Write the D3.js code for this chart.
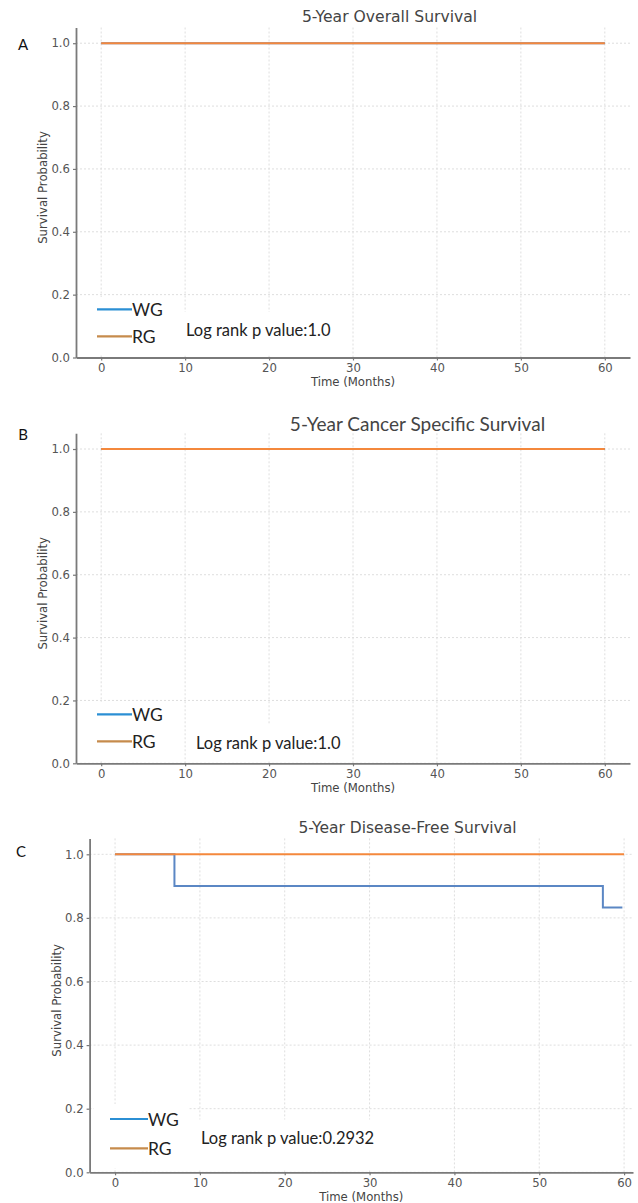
<!DOCTYPE html>
<html>
<head>
<meta charset="utf-8">
<script src="https://cdn.jsdelivr.net/npm/d3@7"></script>
<style>
    body { margin: 0; background: #fff; }
    svg { display: block; }
    .tick text { font-family: 'DejaVu Sans', sans-serif; font-size: 11.7px; fill: #555; }
    .tick line { stroke: #777; stroke-width: 1.2; }
    .domain { stroke: #7a7a7a; stroke-width: 1.8; }
</style>
</head>
<body>
<div id="chart"></div>
<script>
// data
const timeTicks = [0, 10, 20, 30, 40, 50, 60];
const probTicks = [0, 0.2, 0.4, 0.6, 0.8, 1.0];
const groups = ['WG', 'RG'];

const osWGTime = [0, 60];
const osWGSurv = [1.0, 1.0];
const osRGTime = [0, 60];
const osRGSurv = [1.0, 1.0];

const cssWGTime = [0, 60];
const cssWGSurv = [1.0, 1.0];
const cssRGTime = [0, 60];
const cssRGSurv = [1.0, 1.0];

const dfsWGTime = [0, 7, 57.5, 59.8];
const dfsWGSurv = [1.0, 0.9, 0.833, 0.833];
const dfsRGTime = [0, 60];
const dfsRGSurv = [1.0, 1.0];

const pValues = ['1.0', '1.0', '0.2932'];

const lineColors = {WG: '#5b87c4', RG: '#f4883c'};
const legendColors = {WG: '#2b8fd4', RG: '#c68b4c'};

const W = 638, H = 1203;

const svg = d3.select('#chart').append('svg')
    .attr('width', W)
    .attr('height', H);

class SurvivalPanel {
    constructor(_config, _series) {
        this.config = _config;
        this.series = _series;
        this.initVis();
    }

    initVis() {
        let vis = this;
        const c = vis.config;

        vis.g = svg.append('g');

        vis.xScale = d3.scaleLinear().domain(c.xDomain).range([c.left, c.right]);
        vis.yScale = d3.scaleLinear().domain([0, 1.05]).range([c.bottom, c.top]);

        // dotted grid
        vis.g.append('g').selectAll('line')
            .data(timeTicks)
            .join('line')
            .attr('x1', d => vis.xScale(d)).attr('x2', d => vis.xScale(d))
            .attr('y1', c.top).attr('y2', c.bottom)
            .attr('stroke', '#dedede')
            .attr('stroke-dasharray', '2,2');

        vis.g.append('g').selectAll('line')
            .data(probTicks)
            .join('line')
            .attr('x1', c.left).attr('x2', c.right)
            .attr('y1', d => vis.yScale(d)).attr('y2', d => vis.yScale(d))
            .attr('stroke', '#dedede')
            .attr('stroke-dasharray', '2,2');

        // KM step curves
        const line = d3.line()
            .x(d => vis.xScale(d[0]))
            .y(d => vis.yScale(d[1]))
            .curve(d3.curveStepAfter);

        groups.forEach(grp => {
            const s = vis.series[grp];
            const pts = s.time.map((t, i) => [t, s.surv[i]]);
            vis.g.append('path')
                .datum(pts)
                .attr('fill', 'none')
                .attr('stroke', lineColors[grp])
                .attr('stroke-width', 2)
                .attr('d', line);
        });

        // white boxes pasted over the grid (legend + p value)
        const lg = c.legend;
        vis.g.append('rect')
            .attr('x', lg.boxX).attr('y', lg.boxY)
            .attr('width', lg.boxW).attr('height', lg.boxH)
            .attr('fill', '#fff');

        groups.forEach((grp, i) => {
            const yy = lg.y + i * lg.gap;
            vis.g.append('line')
                .attr('x1', lg.x).attr('x2', lg.x + lg.len)
                .attr('y1', yy).attr('y2', yy)
                .attr('stroke', legendColors[grp])
                .attr('stroke-width', 2.2);
            vis.g.append('text')
                .attr('x', lg.x + lg.len)
                .attr('y', yy + 6.5)
                .style('font-family', 'Lato, sans-serif')
                .style('font-size', '17.5px')
                .attr('fill', '#222')
                .text(grp);
        });

        const pText = vis.g.append('text')
            .attr('x', c.pX)
            .attr('y', c.pY)
            .style('font-family', 'Lato, sans-serif')
            .style('font-size', '16.5px')
            .attr('fill', '#222')
            .text('Log rank p value:' + c.pValue);
        const bb = pText.node().getBBox();
        vis.g.insert('rect', () => pText.node())
            .attr('x', bb.x - 6).attr('y', bb.y - 8)
            .attr('width', bb.width + 10).attr('height', c.bottom - bb.y + 6)
            .attr('fill', '#fff');

        // axes
        vis.g.append('g')
            .attr('transform', `translate(0,${c.bottom})`)
            .call(d3.axisBottom(vis.xScale).tickValues(timeTicks).tickSize(3).tickSizeOuter(0).tickPadding(3));

        vis.g.append('g')
            .attr('transform', `translate(${c.left},0)`)
            .call(d3.axisLeft(vis.yScale).tickValues(probTicks).tickFormat(d3.format('.1f')).tickSize(3).tickSizeOuter(0).tickPadding(3));

        vis.g.append('text')
            .attr('x', (c.left + c.right) / 2)
            .attr('y', c.bottom + 28.5)
            .attr('text-anchor', 'middle')
            .style('font-family', 'DejaVu Sans, sans-serif')
            .style('font-size', '11.7px')
            .attr('fill', '#444')
            .text('Time (Months)');

        vis.g.append('text')
            .attr('transform', `translate(${c.left - 33},${(c.top + c.bottom) / 2 - 5}) rotate(-90)`)
            .attr('text-anchor', 'middle')
            .attr('dy', '0.35em')
            .style('font-family', 'DejaVu Sans, sans-serif')
            .style('font-size', '11.7px')
            .attr('fill', '#444')
            .text('Survival Probability');

        // title
        vis.g.append('text')
            .attr('x', c.titleX)
            .attr('y', c.titleY)
            .attr('text-anchor', 'middle')
            .style('font-family', c.titleFont)
            .style('font-size', c.titleSize)
            .attr('fill', '#444')
            .text(c.title);

        // panel letter
        vis.g.append('text')
            .attr('x', c.letterX)
            .attr('y', c.letterY)
            .attr('text-anchor', 'middle')
            .style('font-family', 'Lato, sans-serif')
            .style('font-size', '15px')
            .attr('fill', '#111')
            .text(c.letter);
    }
}

new SurvivalPanel({
    letter: 'A', letterX: 23, letterY: 50,
    title: '5-Year Overall Survival', titleX: 389.5, titleY: 21.5,
    titleFont: 'DejaVu Sans, sans-serif', titleSize: '15.6px',
    left: 76, right: 630, top: 27.5, bottom: 357.5, xDomain: [-3, 63],
    legend: {x: 97, len: 35, y: 309.3, gap: 27, boxX: 80, boxY: 297, boxW: 88, boxH: 58},
    pX: 186, pY: 336, pValue: pValues[0]
}, {WG: {time: osWGTime, surv: osWGSurv}, RG: {time: osRGTime, surv: osRGSurv}});

new SurvivalPanel({
    letter: 'B', letterX: 23, letterY: 440,
    title: '5-Year Cancer Specific Survival', titleX: 417.5, titleY: 431,
    titleFont: 'Lato, sans-serif', titleSize: '19px',
    left: 76, right: 630, top: 433.3, bottom: 763.3, xDomain: [-3, 63],
    legend: {x: 97, len: 35, y: 714.3, gap: 27, boxX: 80, boxY: 702, boxW: 88, boxH: 58},
    pX: 196, pY: 749, pValue: pValues[1]
}, {WG: {time: cssWGTime, surv: cssWGSurv}, RG: {time: cssRGTime, surv: cssRGSurv}});

new SurvivalPanel({
    letter: 'C', letterX: 21, letterY: 857,
    title: '5-Year Disease-Free Survival', titleX: 407.5, titleY: 832.5,
    titleFont: 'DejaVu Sans, sans-serif', titleSize: '15.5px',
    left: 89.6, right: 633, top: 838.4, bottom: 1172.3, xDomain: [-3, 61.05],
    legend: {x: 110, len: 38, y: 1119, gap: 29.3, boxX: 94, boxY: 1104, boxW: 94, boxH: 64},
    pX: 201, pY: 1143.5, pValue: pValues[2]
}, {WG: {time: dfsWGTime, surv: dfsWGSurv}, RG: {time: dfsRGTime, surv: dfsRGSurv}});
</script>
</body>
</html>
